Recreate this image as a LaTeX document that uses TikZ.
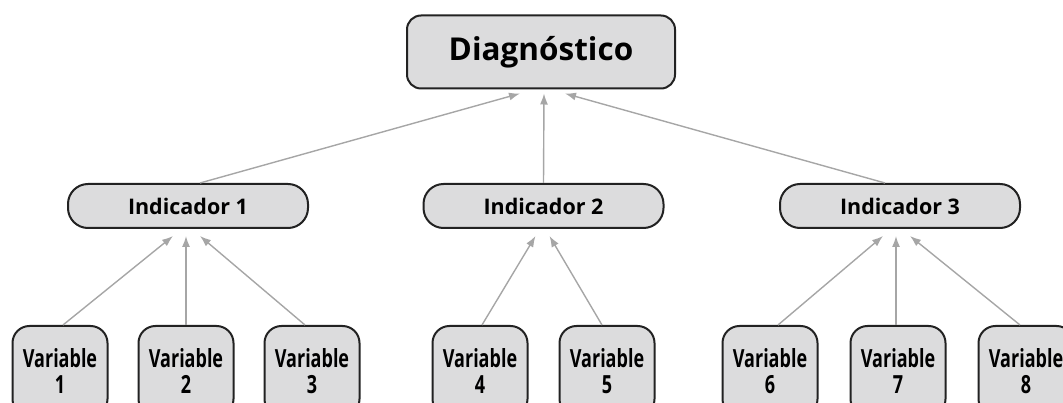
\documentclass[tikz,border=0pt]{standalone}
\usepackage{fontspec}
\setmainfont{Open Sans}
\usetikzlibrary{arrows.meta}
\definecolor{boxfill}{HTML}{DCDCDD}
\definecolor{boxline}{HTML}{222222}
\definecolor{arrgray}{HTML}{A6A6A6}
\tikzset{
  diagbox/.style={draw=boxline, line width=2pt, fill=boxfill, rounded corners=14pt,
    minimum width=268pt, minimum height=73pt, inner sep=0pt,
    font=\fontsize{31.5}{36}\selectfont\bfseries},
  indbox/.style={draw=boxline, line width=2pt, fill=boxfill, rounded corners=20pt,
    minimum width=240pt, minimum height=44pt, inner sep=0pt,
    font=\fontsize{21.5}{24}\selectfont\bfseries},
  varbox/.style={draw=boxline, line width=2pt, fill=boxfill, rounded corners=17pt,
    minimum width=95pt, minimum height=90pt, inner sep=0pt, align=center,
    font=\fontsize{25}{26}\selectfont\bfseries},
  arr/.style={draw=arrgray, line width=1.4pt, -{Latex[length=11pt,width=8pt]}},
}
\newcommand{\cond}[1]{\scalebox{0.72}[1]{#1}}
\begin{document}
\begin{tikzpicture}[x=1pt,y=-1pt]
\useasboundingbox (0,0) rectangle (1063,403);
\node[diagbox] (diag) at (541,52) {Diagnóstico};
\node[indbox] (ind1) at (188,206) {Indicador 1};
\node[indbox] (ind2) at (543.5,206) {Indicador 2};
\node[indbox] (ind3) at (900,206) {Indicador 3};
\node[varbox] (v1) at (60,371) {\cond{Variable}\\\cond{1}};
\node[varbox] (v2) at (186,371) {\cond{Variable}\\\cond{2}};
\node[varbox] (v3) at (312,371) {\cond{Variable}\\\cond{3}};
\node[varbox] (v4) at (480,371) {\cond{Variable}\\\cond{4}};
\node[varbox] (v5) at (607,371) {\cond{Variable}\\\cond{5}};
\node[varbox] (v6) at (770,371) {\cond{Variable}\\\cond{6}};
\node[varbox] (v7) at (898,371) {\cond{Variable}\\\cond{7}};
\node[varbox] (v8) at (1026,371) {\cond{Variable}\\\cond{8}};
% to diagnostico
\draw[arr] ([xshift=12pt]ind1.north) -- ([xshift=-21pt,yshift=-4pt]diag.south);
\draw[arr] (ind2.north) -- ([xshift=3pt,yshift=-4pt]diag.south);
\draw[arr] ([xshift=-15pt]ind3.north) -- ([xshift=24pt,yshift=-4pt]diag.south);
% to indicador 1
\draw[arr] ([xshift=3pt]v1.north) -- ([xshift=-15pt,yshift=-7pt]ind1.south);
\draw[arr] (v2.north) -- ([xshift=-2pt,yshift=-7pt]ind1.south);
\draw[arr] ([xshift=-7pt]v3.north) -- ([xshift=12pt,yshift=-7pt]ind1.south);
% to indicador 2
\draw[arr] ([xshift=2pt]v4.north) -- ([xshift=-8pt,yshift=-7pt]ind2.south);
\draw[arr] ([xshift=-5pt]v5.north) -- ([xshift=6pt,yshift=-7pt]ind2.south);
% to indicador 3
\draw[arr] ([xshift=8pt]v6.north) -- ([xshift=-17pt,yshift=-7pt]ind3.south);
\draw[arr] ([xshift=-2pt]v7.north) -- ([xshift=-4pt,yshift=-7pt]ind3.south);
\draw[arr] ([xshift=-6pt]v8.north) -- ([xshift=10pt,yshift=-7pt]ind3.south);
\end{tikzpicture}
\end{document}
